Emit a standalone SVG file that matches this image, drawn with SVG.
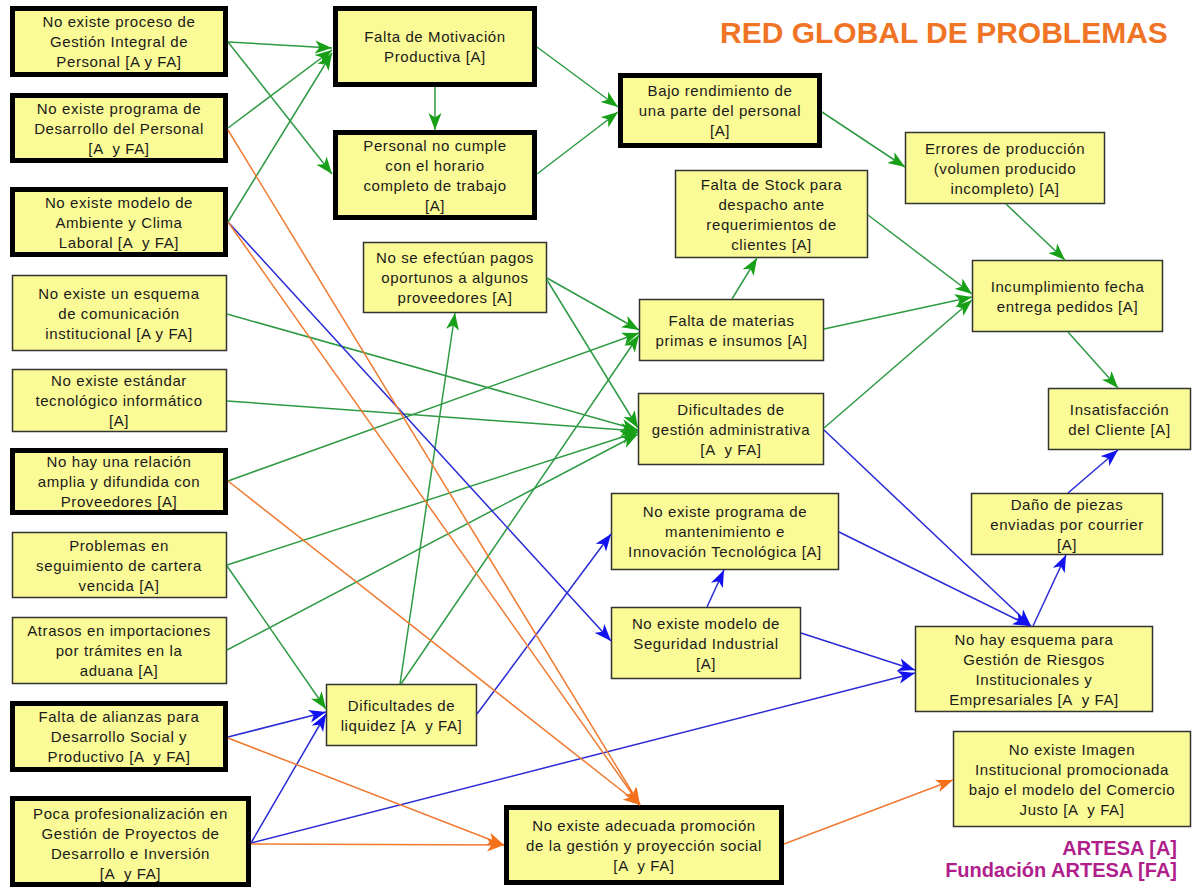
<svg xmlns="http://www.w3.org/2000/svg" width="1197" height="888" viewBox="0 0 1197 888">
<style>
.bg{fill:#ffffff}
.nk{fill:#fafa96;stroke:#000;stroke-width:5}
.nt{fill:#fafa96;stroke:#333;stroke-width:1.5}
.t{font-family:"Liberation Sans",Arial,sans-serif;font-size:15px;letter-spacing:0.6px;fill:#1a1a1a;text-anchor:middle;white-space:pre}
.g{stroke:#2f9a44;stroke-width:1.5;fill:none;marker-end:url(#ag)}
.b{stroke:#2a2ad6;stroke-width:1.5;fill:none;marker-end:url(#ab)}
.o{stroke:#f07a30;stroke-width:1.5;fill:none;marker-end:url(#ao)}
.title{font-family:"Liberation Sans",Arial,sans-serif;font-size:30px;font-weight:bold;fill:#f07426}
.leg{font-family:"Liberation Sans",Arial,sans-serif;font-size:20px;font-weight:bold;fill:#b01e8c;text-anchor:end}
</style>
<defs>
<marker id="ag" markerWidth="18" markerHeight="14" refX="17" refY="7" orient="auto" markerUnits="userSpaceOnUse"><path d="M0,0.5 L17,7 L0,13.5 L4.5,7 z" fill="#17a017"/></marker>
<marker id="ab" markerWidth="18" markerHeight="14" refX="17" refY="7" orient="auto" markerUnits="userSpaceOnUse"><path d="M0,0.5 L17,7 L0,13.5 L4.5,7 z" fill="#1212f0"/></marker>
<marker id="ao" markerWidth="18" markerHeight="14" refX="17" refY="7" orient="auto" markerUnits="userSpaceOnUse"><path d="M0,0.5 L17,7 L0,13.5 L4.5,7 z" fill="#f5701a"/></marker>
</defs>
<rect class="bg" x="0" y="0" width="1197" height="888"/>
<text class="title" x="720" y="43">RED GLOBAL DE PROBLEMAS</text>

<g id="n1"><rect class="nk" x="12.5" y="8.5" width="213" height="66"/><text class="t"><tspan x="119" y="27">No existe proceso de</tspan><tspan x="119" y="47">Gestión Integral de</tspan><tspan x="119" y="67">Personal [A y FA]</tspan></text></g>
<g id="n2"><rect class="nk" x="12.5" y="95.5" width="213" height="65"/><text class="t"><tspan x="119" y="113.5">No existe programa de</tspan><tspan x="119" y="133.5">Desarrollo del Personal</tspan><tspan x="119" y="153.5">[A  y FA]</tspan></text></g>
<g id="n3"><rect class="nk" x="12.5" y="189.5" width="213" height="65"/><text class="t"><tspan x="119" y="207.5">No existe modelo de</tspan><tspan x="119" y="227.5">Ambiente y Clima</tspan><tspan x="119" y="247.5">Laboral [A  y FA]</tspan></text></g>
<g id="n4"><rect class="nt" x="12.5" y="275.5" width="214" height="75"/><text class="t"><tspan x="119" y="298.5">No existe un esquema</tspan><tspan x="119" y="318.5">de comunicación</tspan><tspan x="119" y="338.5">institucional [A y FA]</tspan></text></g>
<g id="n5"><rect class="nt" x="12.5" y="369.5" width="214" height="62"/><text class="t"><tspan x="119" y="386">No existe estándar</tspan><tspan x="119" y="406">tecnológico informático</tspan><tspan x="119" y="426">[A]</tspan></text></g>
<g id="n6"><rect class="nk" x="12.5" y="450.5" width="213" height="62"/><text class="t"><tspan x="119" y="467">No hay una relación</tspan><tspan x="119" y="487">amplia y difundida con</tspan><tspan x="119" y="507">Proveedores [A]</tspan></text></g>
<g id="n7"><rect class="nt" x="12.5" y="532.5" width="214" height="65"/><text class="t"><tspan x="119" y="550.5">Problemas en</tspan><tspan x="119" y="570.5">seguimiento de cartera</tspan><tspan x="119" y="590.5">vencida [A]</tspan></text></g>
<g id="n8"><rect class="nt" x="12.5" y="617.5" width="214" height="66"/><text class="t"><tspan x="119" y="636">Atrasos en importaciones</tspan><tspan x="119" y="656">por trámites en la</tspan><tspan x="119" y="676">aduana [A]</tspan></text></g>
<g id="n9"><rect class="nk" x="12.5" y="703.5" width="213" height="66"/><text class="t"><tspan x="119" y="722">Falta de alianzas para</tspan><tspan x="119" y="742">Desarrollo Social y</tspan><tspan x="119" y="762">Productivo [A  y FA]</tspan></text></g>
<g id="n10"><rect class="nk" x="12.5" y="798.5" width="236" height="86"/><text class="t"><tspan x="130.5" y="818.5">Poca profesionalización en</tspan><tspan x="130.5" y="838.5">Gestión de Proyectos de</tspan><tspan x="130.5" y="858.5">Desarrollo e Inversión</tspan><tspan x="130.5" y="878.5">[A  y FA]</tspan></text></g>

<g id="motivacion"><rect class="nk" x="335.5" y="8.5" width="199" height="76"/><text class="t"><tspan x="435" y="42">Falta de Motivación</tspan><tspan x="435" y="62">Productiva [A]</tspan></text></g>
<g id="horario"><rect class="nk" x="335.5" y="132.5" width="199" height="85"/><text class="t"><tspan x="435" y="150.5">Personal no cumple</tspan><tspan x="435" y="170.5">con el horario</tspan><tspan x="435" y="190.5">completo de trabajo</tspan><tspan x="435" y="210.5">[A]</tspan></text></g>
<g id="pagos"><rect class="nt" x="363.5" y="242.5" width="183" height="70"/><text class="t"><tspan x="455" y="263">No se efectúan pagos</tspan><tspan x="455" y="283">oportunos a algunos</tspan><tspan x="455" y="303">proveedores [A]</tspan></text></g>
<g id="liquidez"><rect class="nt" x="326.5" y="684.5" width="150" height="61"/><text class="t"><tspan x="401.5" y="710.5">Dificultades de</tspan><tspan x="401.5" y="730.5">liquidez [A  y FA]</tspan></text></g>
<g id="promocion"><rect class="nk" x="506.5" y="807.5" width="275" height="75"/><text class="t"><tspan x="644" y="830.5">No existe adecuada promoción</tspan><tspan x="644" y="850.5">de la gestión y proyección social</tspan><tspan x="644" y="870.5">[A  y FA]</tspan></text></g>

<g id="rendimiento"><rect class="nk" x="620.5" y="75.5" width="199" height="70"/><text class="t"><tspan x="720" y="96">Bajo rendimiento de</tspan><tspan x="720" y="116">una parte del personal</tspan><tspan x="720" y="136">[A]</tspan></text></g>
<g id="stock"><rect class="nt" x="675.5" y="170.5" width="192" height="87"/><text class="t"><tspan x="771.5" y="189.5">Falta de Stock para</tspan><tspan x="771.5" y="209.5">despacho ante</tspan><tspan x="771.5" y="229.5">requerimientos de</tspan><tspan x="771.5" y="249.5">clientes [A]</tspan></text></g>
<g id="materias"><rect class="nt" x="639.5" y="299.5" width="184" height="61"/><text class="t"><tspan x="731.5" y="325.5">Falta de materias</tspan><tspan x="731.5" y="345.5">primas e insumos [A]</tspan></text></g>
<g id="gestionadm"><rect class="nt" x="638.5" y="393.5" width="185" height="71"/><text class="t"><tspan x="731" y="414.5">Dificultades de</tspan><tspan x="731" y="434.5">gestión administrativa</tspan><tspan x="731" y="454.5">[A  y FA]</tspan></text></g>
<g id="mantenimiento"><rect class="nt" x="611.5" y="493.5" width="227" height="76"/><text class="t"><tspan x="725" y="517">No existe programa de</tspan><tspan x="725" y="537">mantenimiento e</tspan><tspan x="725" y="557">Innovación Tecnológica [A]</tspan></text></g>
<g id="seguridad"><rect class="nt" x="611.5" y="607.5" width="189" height="71"/><text class="t"><tspan x="706" y="628.5">No existe modelo de</tspan><tspan x="706" y="648.5">Seguridad Industrial</tspan><tspan x="706" y="668.5">[A]</tspan></text></g>

<g id="errores"><rect class="nt" x="905.5" y="132.5" width="199" height="71"/><text class="t"><tspan x="1005" y="153.5">Errores de producción</tspan><tspan x="1005" y="173.5">(volumen producido</tspan><tspan x="1005" y="193.5">incompleto) [A]</tspan></text></g>
<g id="incumplimiento"><rect class="nt" x="972.5" y="260.5" width="190" height="71"/><text class="t"><tspan x="1067.5" y="291.5">Incumplimiento fecha</tspan><tspan x="1067.5" y="311.5">entrega pedidos [A]</tspan></text></g>
<g id="insatisfaccion"><rect class="nt" x="1048.5" y="388.5" width="142" height="61"/><text class="t"><tspan x="1119.5" y="414.5">Insatisfacción</tspan><tspan x="1119.5" y="434.5">del Cliente [A]</tspan></text></g>
<g id="dano"><rect class="nt" x="971.5" y="493.5" width="191" height="61"/><text class="t"><tspan x="1067" y="509.5">Daño de piezas</tspan><tspan x="1067" y="529.5">enviadas por courrier</tspan><tspan x="1067" y="549.5">[A]</tspan></text></g>
<g id="riesgos"><rect class="nt" x="915.5" y="626.5" width="237" height="85"/><text class="t"><tspan x="1034" y="644.5">No hay esquema para</tspan><tspan x="1034" y="664.5">Gestión de Riesgos</tspan><tspan x="1034" y="684.5">Institucionales y</tspan><tspan x="1034" y="704.5">Empresariales [A  y FA]</tspan></text></g>
<g id="imagen"><rect class="nt" x="953.5" y="731.5" width="237" height="95"/><text class="t"><tspan x="1072" y="754.5">No existe Imagen</tspan><tspan x="1072" y="774.5">Institucional promocionada</tspan><tspan x="1072" y="794.5">bajo el modelo del Comercio</tspan><tspan x="1072" y="814.5">Justo [A  y FA]</tspan></text></g>

<g id="connectors">
<line class="g" x1="228" y1="42" x2="332" y2="48"/>
<line class="g" x1="228" y1="42" x2="332" y2="174"/>
<line class="g" x1="228" y1="128" x2="332" y2="50"/>
<line class="g" x1="228" y1="222" x2="332" y2="53"/>
<line class="g" x1="435" y1="87" x2="435" y2="130"/>
<line class="g" x1="537" y1="47" x2="618" y2="107"/>
<line class="g" x1="537" y1="174" x2="618" y2="112"/>
<line class="g" x1="822" y1="112" x2="905" y2="167"/>
<line class="g" x1="1006" y1="204" x2="1065" y2="260"/>
<line class="g" x1="868" y1="215" x2="972" y2="294"/>
<line class="g" x1="824" y1="329" x2="972" y2="297"/>
<line class="g" x1="824" y1="428" x2="972" y2="300"/>
<line class="g" x1="732" y1="299" x2="757" y2="258"/>
<line class="g" x1="1068" y1="332" x2="1118" y2="388"/>
<line class="g" x1="547" y1="278" x2="639" y2="330"/>
<line class="g" x1="547" y1="280" x2="638" y2="428"/>
<line class="g" x1="227" y1="314" x2="638" y2="430"/>
<line class="g" x1="227" y1="401" x2="638" y2="431"/>
<line class="g" x1="228" y1="481" x2="639" y2="333"/>
<line class="g" x1="227" y1="565" x2="638" y2="432"/>
<line class="g" x1="227" y1="566" x2="326" y2="709"/>
<line class="g" x1="227" y1="650" x2="638" y2="434"/>
<line class="g" x1="400" y1="684" x2="455" y2="313"/>
<line class="g" x1="401" y1="684" x2="639" y2="335"/>
<line class="b" x1="228" y1="222" x2="611" y2="641"/>
<line class="b" x1="824" y1="430" x2="1031" y2="626"/>
<line class="b" x1="839" y1="532" x2="1030" y2="626"/>
<line class="b" x1="801" y1="633" x2="915" y2="670"/>
<line class="b" x1="707" y1="607" x2="724" y2="570"/>
<line class="b" x1="477" y1="714" x2="611" y2="534"/>
<line class="b" x1="1033" y1="626" x2="1066" y2="555"/>
<line class="b" x1="1068" y1="493" x2="1118" y2="450"/>
<line class="b" x1="228" y1="737" x2="326" y2="712"/>
<line class="b" x1="251" y1="843" x2="326" y2="714"/>
<line class="b" x1="251" y1="843" x2="915" y2="673"/>
<line class="o" x1="228" y1="130" x2="640" y2="805"/>
<line class="o" x1="228" y1="222" x2="640" y2="805"/>
<line class="o" x1="228" y1="481" x2="640" y2="805"/>
<line class="o" x1="228" y1="738" x2="504" y2="845"/>
<line class="o" x1="251" y1="844" x2="504" y2="845"/>
<line class="o" x1="784" y1="844" x2="953" y2="780"/>
</g>

<text class="leg" x="1177" y="855">ARTESA [A]</text>
<text class="leg" x="1177" y="877">Fundación ARTESA [FA]</text>
</svg>
